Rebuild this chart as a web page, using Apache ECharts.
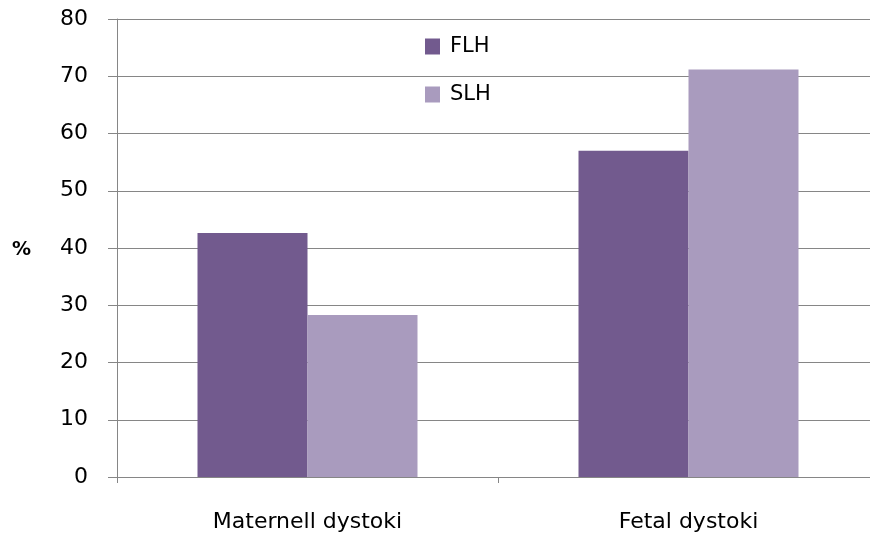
<!DOCTYPE html>
<html>
<head>
<meta charset="utf-8">
<script src="https://cdn.jsdelivr.net/npm/echarts@6/dist/echarts.min.js"></script>
<style>html,body{margin:0;padding:0;background:#fff;}#c{width:870px;height:535px;}</style>
</head>
<body>
<div id="c"></div>
<script>
const categories = ['Maternell dystoki', 'Fetal dystoki'];
const flh = [42.6, 57.0];
const slh = [28.3, 71.2];
const seriesNames = ['FLH', 'SLH'];
const yMin = 0, yMax = 80, yInterval = 10;

const FONT = 'DejaVu Sans';
const chart = echarts.init(document.getElementById('c'));
chart.setOption({
  animation: false,
  backgroundColor: '#ffffff',
  grid: { left: 117, top: 19, width: 762, height: 458, containLabel: false, outerBoundsMode: 'none' },
  legend: {
    orient: 'vertical', left: 420, top: 31,
    itemWidth: 15, itemHeight: 16, itemGap: 27,
    icon: 'rect',
    data: seriesNames,
    textStyle: { fontFamily: FONT, fontSize: 21, color: '#000', lineHeight: 16, padding: [0, 0, 0, 5] }
  },
  graphic: [{
    type: 'text', left: 12, top: 241,
    style: { text: '%', font: 'bold 19px "DejaVu Sans"', fill: '#000' }
  }],
  xAxis: {
    type: 'category', data: categories,
    axisLine: { lineStyle: { color: '#868686', width: 1 } },
    axisTick: { show: true, alignWithLabel: false, length: 6, lineStyle: { color: '#868686' } },
    axisLabel: { fontFamily: FONT, fontSize: 22, color: '#000', margin: 34 },
    splitLine: { show: false }
  },
  yAxis: {
    type: 'value', min: yMin, max: yMax, interval: yInterval,
    axisLine: { show: true, lineStyle: { color: '#868686', width: 1 } },
    axisTick: { show: true, length: 9, lineStyle: { color: '#868686' } },
    axisLabel: { fontFamily: FONT, fontSize: 22, color: '#000', margin: 29 },
    splitLine: { show: true, lineStyle: { color: '#868686', width: 1 } }
  },
  series: [
    { name: seriesNames[0], type: 'bar', data: flh, barWidth: 110, barGap: '0%',
      itemStyle: { color: '#725a8e' } },
    { name: seriesNames[1], type: 'bar', data: slh, barWidth: 110, barGap: '0%',
      itemStyle: { color: '#a99bbe' } }
  ]
});
</script>
</body>
</html>
